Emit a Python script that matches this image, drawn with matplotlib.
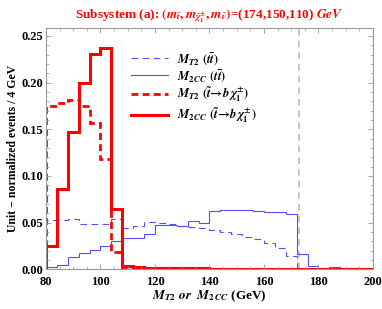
import numpy as np
import matplotlib
matplotlib.use("Agg")
import matplotlib.pyplot as plt

plt.rcParams['font.family'] = ['Liberation Serif', 'DejaVu Serif']
plt.rcParams['font.weight'] = 'bold'
plt.rcParams['mathtext.fontset'] = 'custom'
plt.rcParams['mathtext.rm'] = 'STIXGeneral:bold'
plt.rcParams['mathtext.it'] = 'STIXGeneral:italic:bold'
plt.rcParams['mathtext.bf'] = 'STIXGeneral:bold'
plt.rcParams['mathtext.fallback'] = 'stix'

# Data: unit-normalised histograms, 4 GeV bins starting at 80 GeV
edges = np.arange(80, 204, 4)

mt2_tt = [0.053, 0.053, 0.054, 0.048, 0.048, 0.049, 0.054, 0.044, 0.046, 0.051,
          0.050, 0.048, 0.046, 0.045, 0.044, 0.042, 0.040, 0.038, 0.035, 0.032,
          0.0286, 0.0225, 0.0143]
m2cc_tt = [0.002, 0.005, 0.013, 0.017, 0.021, 0.025, 0.030, 0.033, 0.034, 0.038,
           0.047, 0.047, 0.046, 0.052, 0.050, 0.062, 0.063, 0.063, 0.063, 0.062,
           0.061, 0.061, 0.059, 0.016, 0.003, 0.0015, 0.002, 0.001, 0.001, 0.0005]
mt2_stop = [0.175, 0.178, 0.181, 0.175, 0.157, 0.118, 0.018, 0.001, 0.0005, 0.0003,
            0.0003, 0.0003, 0.0003, 0.0003, 0.0003, 0.0003, 0.0003, 0.0003, 0.0003, 0.0003,
            0.0003, 0.0003, 0.0003, 0.0003, 0.0003, 0.0003, 0.0003, 0.0003, 0.0003, 0.0003]
m2cc_stop = [0.025, 0.086, 0.147, 0.200, 0.231, 0.237, 0.065, 0.003, 0.002, 0.0015,
             0.001, 0.001, 0.001, 0.001, 0.001, 0.0008, 0.0008, 0.0008, 0.0006, 0.0006,
             0.0006, 0.0005, 0.0005, 0.0005, 0.0005, 0.0004, 0.0004, 0.0004, 0.0004, 0.0004]
m_top = 173

labels = [r"$M_{T2}\ (t\bar{t})$",
          r"$M_{2\,CC}\ (t\bar{t})$",
          r"$M_{T2}\ (\tilde{t}\!\rightarrow\! b\,\chi_1^{\pm})$",
          r"$M_{2\,CC}\ (\tilde{t}\!\rightarrow\! b\,\chi_1^{\pm})$"]

blue = '#5050ff'
red = '#ff0000'

fig = plt.figure(figsize=(3.82, 3.09), dpi=100)
ax = fig.add_axes([0.1204, 0.1285, 0.856, 0.7825])

ax.axvline(m_top, color='#bbbbbb', lw=1.2, ls=(0, (4, 3)), zorder=1)

ax.stairs(mt2_tt, edges[:len(mt2_tt) + 1], baseline=0, color=blue, lw=0.8,
          ls=(0, (6, 4)), label=labels[0])
ax.stairs(m2cc_tt, edges, baseline=0, color=blue, lw=0.8, label=labels[1])
ax.stairs(mt2_stop, edges, baseline=0, color=red, lw=2.0,
          ls=(0, (2.5, 1.5)), label=labels[2])
ax.stairs(m2cc_stop, edges, baseline=0, color=red, lw=2.2, label=labels[3])

ax.set_xlim(80, 200)
ax.set_ylim(0, 0.259)
ax.set_xticks(np.arange(80, 201, 20))
ax.set_xticks(np.arange(80, 201, 5), minor=True)
ax.set_yticks(np.arange(0, 0.251, 0.05))
ax.set_yticks(np.arange(0, 0.251, 0.01), minor=True)
ax.set_yticklabels([f"{v:.2f}" for v in np.arange(0, 0.251, 0.05)])
for lbl in ax.get_xticklabels() + ax.get_yticklabels():
    lbl.set_fontweight('bold')

for s in ax.spines.values():
    s.set_color('#999999')
    s.set_linewidth(0.8)
ax.tick_params(which='both', direction='in', top=True, right=True, color='#999999',
               labelsize=9)
ax.tick_params(axis='x', pad=5)
ax.tick_params(axis='y', pad=2)
ax.tick_params(which='major', length=3.5, width=0.6)
ax.tick_params(which='minor', length=2, width=0.5)

ax.set_xlabel(r"$M_{T2}$ $or$  $M_{2\,CC}$ (GeV)", fontsize=9.5, fontweight='bold', labelpad=0)
ax.set_ylabel("Unit \u2212 normalized events / 4 GeV", fontsize=8.5, fontweight='bold', labelpad=2)
ax.set_title(r"Subsystem (a): $(m_{\tilde{t}},m_{\tilde{\chi}_1^{\pm}},m_{\tilde{\nu}})$=(174,150,110) $GeV$",
             color=red, fontsize=9.5, fontweight='bold', pad=6)

ax.legend(loc='upper left', bbox_to_anchor=(0.225, 0.95), frameon=False, fontsize=9,
          handlelength=3.0, handletextpad=0.7, labelspacing=0.12)

fig.savefig("out.png", dpi=100)
